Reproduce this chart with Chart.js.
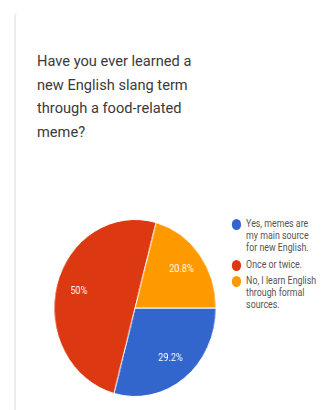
<!DOCTYPE html>
<html>
<head>
<meta charset="utf-8">
<script src="https://cdn.jsdelivr.net/npm/chart.js@4"></script>
<style>
  html, body { margin: 0; padding: 0; background: #fff; }
  body { width: 321px; height: 410px; position: relative; overflow: hidden; font-family: Roboto, Arial, sans-serif; }
  .card { position: absolute; left: 14px; top: 13px; width: 400px; height: 420px; border-left: 2px solid #ececec; border-top-left-radius: 4px; }
  .title { position: absolute; left: 37px; top: 50px; width: 260px; font-size: 15px; line-height: 23.5px; color: #3a3a3a; transform: scaleX(0.975); transform-origin: left top; }
  .pie { position: absolute; left: 46px; top: 219px; width: 178px; height: 178px; transform: scaleX(0.915); transform-origin: center; }
  .legend { position: absolute; left: 231px; top: 218px; width: 120px; transform: scaleX(0.84); transform-origin: left top; }
  .legend .item { position: relative; padding-left: 18px; font-size: 10.5px; line-height: 12px; color: #555; margin-bottom: 4.5px; }
  .legend .dot { position: absolute; left: 1px; top: 1px; width: 11px; height: 11px; border-radius: 50%; }
</style>
</head>
<body>
<div class="card"></div>
<div class="title">Have you ever learned a<br>new English slang term<br>through a food-related<br>meme?</div>
<div class="pie"><canvas id="pieChart" width="178" height="178"></canvas></div>
<div class="legend" id="legend"></div>
<script>
// answers and their share of responses (percent)
const answers = [
  ['Yes, memes are', 'my main source', 'for new English.'],
  ['Once or twice.'],
  ['No, I learn English', 'through formal', 'sources.']
];
const shares = [29.2, 50, 20.8];
const sliceColors = ['#3366cc', '#dc3912', '#ff9900'];

// writes the percentage inside each slice
const sliceLabels = {
  id: 'sliceLabels',
  afterDatasetsDraw(chart) {
    const ctx = chart.ctx;
    const meta = chart.getDatasetMeta(0);
    ctx.save();
    ctx.fillStyle = '#ffffff';
    ctx.font = '10px Roboto, Arial, sans-serif';
    ctx.textAlign = 'center';
    ctx.textBaseline = 'middle';
    meta.data.forEach(function (arc, i) {
      const p = arc.getProps(['x', 'y', 'startAngle', 'endAngle', 'outerRadius'], true);
      const mid = (p.startAngle + p.endAngle) / 2;
      const r = p.outerRadius * 0.72;
      ctx.fillText(shares[i] + '%', p.x + Math.cos(mid) * r, p.y + Math.sin(mid) * r);
    });
    ctx.restore();
  }
};

const ctx = document.getElementById('pieChart').getContext('2d');
const pieChart = new Chart(ctx, {
  type: 'pie',
  data: {
    labels: answers,
    datasets: [{
      data: shares,
      backgroundColor: sliceColors,
      borderColor: '#ffffff',
      borderWidth: 1
    }]
  },
  options: {
    responsive: false,
    animation: false,
    rotation: 90, // first slice starts at 3 o'clock
    layout: { padding: 0 },
    plugins: {
      legend: { display: false },
      tooltip: { enabled: false }
    }
  },
  plugins: [sliceLabels]
});

// legend on the right, built from the chart's own labels
const legendEl = document.getElementById('legend');
pieChart.data.labels.forEach(function (lines, i) {
  const item = document.createElement('div');
  item.className = 'item';
  const dot = document.createElement('span');
  dot.className = 'dot';
  dot.style.background = pieChart.data.datasets[0].backgroundColor[i];
  item.appendChild(dot);
  item.insertAdjacentHTML('beforeend', lines.join('<br>'));
  legendEl.appendChild(item);
});
</script>
</body>
</html>
